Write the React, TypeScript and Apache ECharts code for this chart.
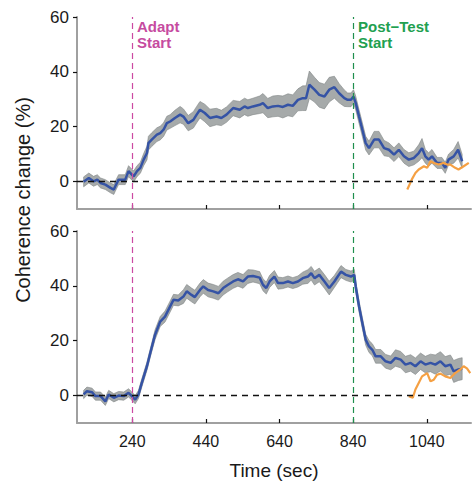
import React, { useEffect, useRef } from "react";
import * as echarts from "echarts";

// ---------- data ----------
const topTime = [108,122,135,145,154,167,181,190,194,203,212,221,230,239,244,253,262,271,280,284,293,307,316,325,334,343,356,370,379,392,406,415,424,437,451,469,482,496,514,532,545,554,568,586,595,608,622,636,649,663,676,690,703,712,721,735,748,762,775,789,802,816,825,834,841,847,856,865,874,883,897,910,924,937,951,964,978,991,1005,1018,1027,1036,1045,1054,1068,1081,1090,1099,1113,1125,1136];
const topMean = [-0.1,1.3,0.1,0.7,-0.5,-1.1,-2.3,-2.9,-1.7,0.7,0.7,0.7,3.8,2.5,1.9,3.8,5,8,10.4,14,15.3,17.1,17.7,18.9,21.3,21.9,23.2,24.4,23.7,21.3,22.5,24.4,26.2,25,23.2,23.7,23.2,24.4,26.8,26.2,27.4,26.8,27.4,28,28.6,26.8,27.4,27.6,27.2,28,27.6,29.8,30.4,30.4,35.3,33.5,31.6,31,33.5,34.4,32.2,30.4,29.8,29.8,31,28.6,23.7,18.9,14,12.2,15.3,15.3,12.2,11.6,9.8,11.6,9.2,8,8.6,10.4,12.2,9.2,8,9.2,6.8,6.8,5,8,9.2,11.6,7.4];
const topSem = [1.8,1.8,1.8,1.8,1.8,1.8,1.8,1.8,1.8,1.8, 1.8,1.8,2,2,2,2,2,2.2,2.5,2.5, 2.5,2.5,2.5,2.5,2.5,2.5,2.8,3,2.8,2.8, 3,3,3,3.2,3.2,3,2.8,2.8,2.8,3, 3,3,3,3.2,3.5,3.5,3.8,3.8,4,4, 4,4,4.5,4.5,5,4.5,4.5,4.5,4.5,4, 3.5,3,2.5,2.5,2.5,2.5,2.5,2.5,2.5,2.5, 3,3,2.8,2.5,2.5,2.5,2.5,2.5,2.5,3, 3.5,2.5,2.5,2.5,2,2,2,2,2.5,3,2.5];
const topAfterTime = [987,991,999,1009,1018,1032,1041,1050,1059,1072,1086,1095,1104,1117,1126,1140,1154];
const topAfter = [-2.9,-1.7,0.7,3.1,4.4,5.6,5,7.4,6.8,6.2,6.8,6.2,6.2,5,4.4,5.6,6.8];

const botTime = [108,117,131,140,154,167,176,190,203,217,230,239,248,257,266,280,289,302,316,329,343,352,365,379,388,401,410,424,433,446,460,474,487,500,514,527,541,554,568,586,595,604,613,626,636,649,663,676,690,703,717,726,735,748,762,775,789,798,807,820,834,843,847,856,865,874,883,892,901,915,928,942,955,969,982,996,1009,1023,1036,1050,1063,1077,1090,1104,1113,1126,1136];
const botMean = [0.4,1.6,1.2,-0.2,-0.2,-2.1,0.4,-0.8,0,-0.2,1,-0.2,-1.5,0.4,4.6,10.7,15.5,22.2,27,28.8,32.5,34.9,34.7,36.1,38,36.7,35.9,38.5,39.8,38.5,38,37.3,39.2,40.4,41.6,42.4,41.6,43.4,43.6,43,40.4,39.2,41.6,43.4,41,41,41.6,41,41.6,42.8,43.4,44.6,42.8,44,41.6,39.2,41.6,43.4,45.2,44,43.4,44,39.7,32.5,26.4,20.4,17.9,16.7,14.3,14.3,12.5,11.9,13.7,13.1,11.3,11.9,10.7,12.5,11.3,11.9,11.3,12.5,10.7,11.3,8.8,9.5,9.8];
const botSem = [1.5,1.5,1.5,1.5,1.5,1.5,1.5,1.5,1.5,1.5, 1.5,1.5,1.5,1.5,1.5,1.5,1.5,1.8,1.8,2, 2,2,2,2.5,2.5,2.5,2.5,2.5,2.5,2.5, 2.5,2.5,2.5,2.5,2.5,2.5,2.5,2.5,2.2,2.2, 2.2,2.2,2.2,2.2,2.2,2,2,2,2,2.2, 2.5,2.5,2.5,2.5,2.5,2.5,2.2,2.2,2.2,2, 2,2,2,2,2,2,2.2,2.2,2.5,2.5, 2.5,2.5,3,3,3,3,3,3,3,3.2, 3.5,3.5,3.5,3.5,4,4,4];
const botAfterTime = [991,1002,1009,1018,1027,1041,1050,1059,1068,1077,1090,1104,1117,1131,1140,1149,1158];
const botAfter = [-0.2,-0.8,2.2,4.6,7,8.2,5.2,5.8,7.6,8,7,6.4,8.2,9.5,10.7,9.9,8.2];

const xTicks = [240, 440, 640, 840, 1040];
const yTicks = [0, 20, 40, 60];
const adaptStart = 240;
const postTestStart = 840;

// ---------- styles ----------
const FONT = '"Liberation Sans", Arial, Helvetica, sans-serif';
const BLUE = "#3553a5";
const ORANGE = "#f5a043";
const PINK = "#cc4aa2";
const PINK_TEXT = "#c64b9f";
const GREEN = "#1f8f4e";
const GREEN_TEXT = "#22a050";
const BAND = "#a6aaaa";
const BAND_EDGE = "#7f8484";

function pairs(t: number[], v: number[]) {
  const n = Math.min(t.length, v.length);
  const out: number[][] = [];
  for (let i = 0; i < n; i++) out.push([t[i], v[i]]);
  return out;
}

function bandSeries(idx: number, t: number[], m: number[], s: number[]) {
  const n = Math.min(t.length, m.length, s.length);
  return {
    type: "custom",
    xAxisIndex: idx,
    yAxisIndex: idx,
    silent: true,
    clip: true,
    z: 1,
    data: [[t[0], m[0]]],
    renderItem: (_p: any, api: any) => {
      const pts: number[][] = [];
      for (let i = 0; i < n; i++) pts.push(api.coord([t[i], m[i] + s[i]]));
      for (let i = n - 1; i >= 0; i--) pts.push(api.coord([t[i], m[i] - s[i]]));
      return {
        type: "polygon",
        shape: { points: pts },
        style: { fill: BAND, stroke: BAND_EDGE, lineWidth: 0.6 },
      };
    },
  };
}

function markLines() {
  return {
    silent: true,
    symbol: "none",
    label: { show: false },
    data: [
      { xAxis: adaptStart, lineStyle: { color: PINK, type: [6, 4], width: 1.2 } },
      { xAxis: postTestStart, lineStyle: { color: GREEN, type: [6, 4], width: 1.2 } },
      { yAxis: 0, lineStyle: { color: "#111", type: [6, 5], width: 1.3 } },
    ],
  };
}

function xAxis(idx: number, showLabels: boolean) {
  return {
    type: "value",
    gridIndex: idx,
    min: 90,
    max: 1160,
    axisLine: { show: true, onZero: false, lineStyle: { color: "#a0a0a0", width: 2 } },
    axisTick: { show: true, inside: true, length: 4, customValues: xTicks, lineStyle: { color: "#111", width: 1.2 } },
    axisLabel: {
      show: showLabels,
      customValues: xTicks,
      formatter: (v: number) => String(v),
      color: "#1a1a1a",
      fontSize: 16,
      fontFamily: FONT,
      margin: 10,
    },
    splitLine: { show: false },
    name: showLabels ? "Time (sec)" : "",
    nameLocation: "middle",
    nameGap: 38,
    nameTextStyle: { color: "#1a1a1a", fontSize: 19, fontFamily: FONT },
  };
}

function yAxis(idx: number) {
  return {
    type: "value",
    gridIndex: idx,
    min: -10,
    max: 60,
    axisLine: { show: true, onZero: false, lineStyle: { color: "#a0a0a0", width: 2 } },
    axisTick: { show: true, inside: false, length: 4, customValues: yTicks, lineStyle: { color: "#111", width: 1.2 } },
    axisLabel: {
      customValues: yTicks,
      formatter: (v: number) => String(v),
      color: "#1a1a1a",
      fontSize: 17,
      fontFamily: FONT,
      margin: 8,
    },
    splitLine: { show: false },
  };
}

export default function App() {
  const ref = useRef<HTMLDivElement>(null);
  useEffect(() => {
    if (!ref.current) return;
    const chart = echarts.init(ref.current, undefined, { renderer: "svg" });
    chart.setOption({
      animation: false,
      backgroundColor: "#ffffff",
      grid: [
        { left: 77, right: 1, top: 17, height: 192 },
        { left: 77, right: 1, top: 231, height: 192 },
      ],
      xAxis: [xAxis(0, false), xAxis(1, true)],
      yAxis: [yAxis(0), yAxis(1)],
      graphic: [
        {
          type: "text",
          x: 23,
          y: 200,
          rotation: Math.PI / 2,
          style: {
            text: "Coherence change (%)",
            fontSize: 20,
            fontFamily: FONT,
            fill: "#1a1a1a",
            align: "center",
            verticalAlign: "middle",
          },
        },
        {
          type: "text",
          x: 137,
          y: 18,
          style: { text: "Adapt\nStart", fontSize: 15, fontWeight: 700, fontFamily: FONT, lineHeight: 16, fill: PINK_TEXT },
        },
        {
          type: "text",
          x: 358,
          y: 18,
          style: { text: "Post\u2212Test\nStart", fontSize: 15, fontWeight: 700, fontFamily: FONT, lineHeight: 16, fill: GREEN_TEXT },
        },
      ],
      series: [
        bandSeries(0, topTime, topMean, topSem),
        {
          type: "line",
          xAxisIndex: 0,
          yAxisIndex: 0,
          data: pairs(topTime, topMean),
          showSymbol: false,
          lineStyle: { color: BLUE, width: 2.5 },
          z: 3,
          markLine: markLines(),
        },
        {
          type: "line",
          xAxisIndex: 0,
          yAxisIndex: 0,
          data: pairs(topAfterTime, topAfter),
          showSymbol: false,
          lineStyle: { color: ORANGE, width: 2.2 },
          z: 4,
        },
        bandSeries(1, botTime, botMean, botSem),
        {
          type: "line",
          xAxisIndex: 1,
          yAxisIndex: 1,
          data: pairs(botTime, botMean),
          showSymbol: false,
          lineStyle: { color: BLUE, width: 2.5 },
          z: 3,
          markLine: markLines(),
        },
        {
          type: "line",
          xAxisIndex: 1,
          yAxisIndex: 1,
          data: pairs(botAfterTime, botAfter),
          showSymbol: false,
          lineStyle: { color: ORANGE, width: 2.2 },
          z: 4,
        },
      ],
    });
    return () => chart.dispose();
  }, []);
  return (
    <div
      ref={ref}
      style={{ position: "absolute", left: 0, top: 0, width: 472, height: 481 }}
    />
  );
}
